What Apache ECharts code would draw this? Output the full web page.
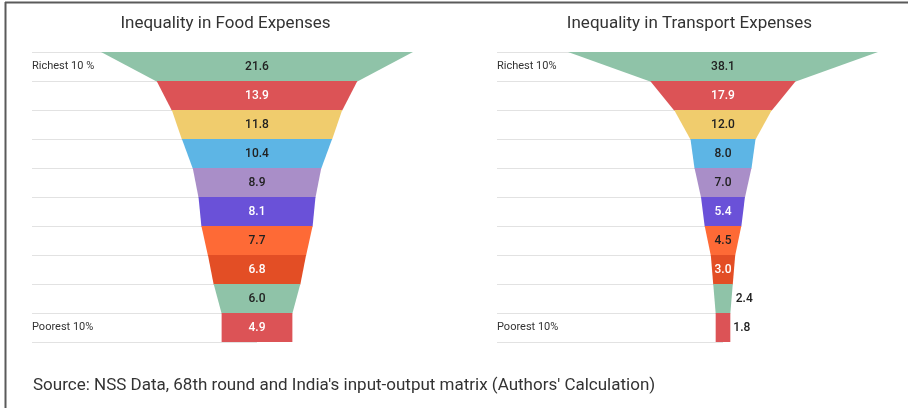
<!DOCTYPE html>
<html><head><meta charset="utf-8">
<script src="https://cdn.jsdelivr.net/npm/echarts@6/dist/echarts.min.js"></script>
<style>html,body{margin:0;padding:0;background:#fff}#c{width:908px;height:408px}</style>
</head><body><div id="c"></div>
<script>
// ---- data ----
const foodTitle = 'Inequality in Food Expenses';
const transportTitle = 'Inequality in Transport Expenses';
const foodCategories = ['Richest 10 %', '', '', '', '', '', '', '', '', 'Poorest 10%'];
const foodValues = [21.6, 13.9, 11.8, 10.4, 8.9, 8.1, 7.7, 6.8, 6.0, 4.9];
const transportCategories = ['Richest 10%', '', '', '', '', '', '', '', '', 'Poorest 10%'];
const transportValues = [38.1, 17.9, 12.0, 8.0, 7.0, 5.4, 4.5, 3.0, 2.4, 1.8];
const sourceText = "Source: NSS Data, 68th round and India's input-output matrix (Authors' Calculation)";

// ---- styles ----
const bandColors = ['#8fc3a8', '#dc5356', '#f0cc6d', '#5db5e5', '#a98ec8', '#6a51d8', '#fe6a36', '#e34e25', '#8fc3a8', '#dc5356'];
const labelColors = ['#212121', '#ffffff', '#212121', '#212121', '#212121', '#ffffff', '#212121', '#ffffff', '#212121', '#ffffff'];
const FONT = 'Roboto, "Noto Sans", sans-serif';

function toData(values) {
  return values.map((v, i) => [i, v, i + 1 < values.length ? values[i + 1] : v]);
}

function renderBand(params, api) {
  const i = api.value(0), v = api.value(1), next = api.value(2);
  const band = api.size([0, 1])[1];
  const cy = api.coord([0, i])[1];
  const yTop = cy - band / 2, yBot = cy + band / 2 + (i < 9 ? 0.6 : 0);
  const tl = api.coord([-v / 2, i])[0], tr = api.coord([v / 2, i])[0];
  const bl = api.coord([-next / 2, i])[0], br = api.coord([next / 2, i])[0];
  const cx = api.coord([0, i])[0];
  const narrow = (tr - tl) < 21;
  const label = v.toFixed(1);
  return {
    type: 'group',
    children: [
      { type: 'polygon', shape: { points: [[tl, yTop], [tr, yTop], [br, yBot], [bl, yBot]] },
        style: { fill: bandColors[i] } },
      { type: 'text', x: narrow ? Math.max(tr, br) + 3 : cx, y: cy,
        style: { text: label, align: narrow ? 'left' : 'center', verticalAlign: 'middle',
          fill: narrow ? '#212121' : labelColors[i], font: '500 12px ' + FONT } }
    ]
  };
}

function yAxisFor(cats, idx) {
  return {
    type: 'category', gridIndex: idx, data: cats, inverse: true,
    axisLine: { show: false }, axisTick: { show: false },
    axisLabel: { inside: true, interval: 0, margin: 0, fontSize: 11, color: '#333', fontFamily: FONT },
    splitLine: { show: true, interval: 0, lineStyle: { color: '#e2e2e2', width: 1 } }
  };
}

const chart = echarts.init(document.getElementById('c'), null, { renderer: 'canvas' });
chart.setOption({
  backgroundColor: '#ffffff',
  animation: false,
  grid: [
    { left: 32, top: 52, width: 225, height: 290 },
    { left: 497, top: 52, width: 226, height: 290 }
  ],
  xAxis: [
    { type: 'value', gridIndex: 0, min: -15.58, max: 0, show: false },
    { type: 'value', gridIndex: 1, min: -27.78, max: 0, show: false }
  ],
  yAxis: [yAxisFor(foodCategories, 0), yAxisFor(transportCategories, 1)],
  series: [
    { type: 'custom', xAxisIndex: 0, yAxisIndex: 0, clip: false, data: toData(foodValues),
      encode: { y: 0, x: 1 }, renderItem: renderBand },
    { type: 'custom', xAxisIndex: 1, yAxisIndex: 1, clip: false, data: toData(transportValues),
      encode: { y: 0, x: 1 }, renderItem: renderBand }
  ],
  graphic: [
    { type: 'line', shape: { x1: 5, y1: 2.5, x2: 908, y2: 2.5 }, style: { stroke: '#5a5a5a', lineWidth: 2 } },
    { type: 'line', shape: { x1: 5.5, y1: 2, x2: 5.5, y2: 408 }, style: { stroke: '#5a5a5a', lineWidth: 2 } },
    { type: 'text', x: 225.5, y: 23.5, style: { text: foodTitle, align: 'center', verticalAlign: 'middle', fill: '#333', font: '17px ' + FONT } },
    { type: 'text', x: 689.5, y: 23.5, style: { text: transportTitle, align: 'center', verticalAlign: 'middle', fill: '#333', font: '17px ' + FONT } },
    { type: 'text', x: 33, y: 385.5, style: { text: sourceText, align: 'left', verticalAlign: 'middle', fill: '#333', font: '17px ' + FONT } }
  ]
});
</script></body></html>
